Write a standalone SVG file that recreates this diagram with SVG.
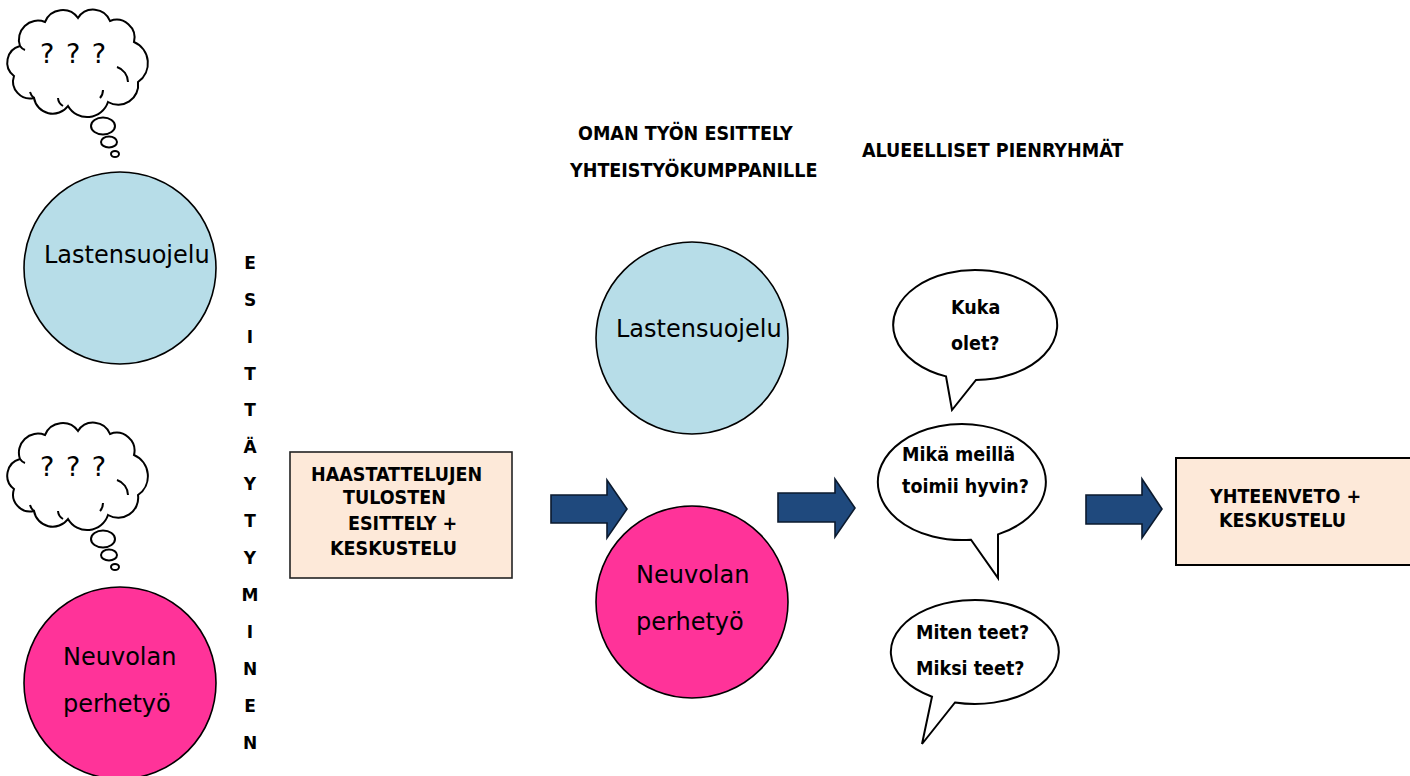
<svg xmlns="http://www.w3.org/2000/svg" xmlns:xlink="http://www.w3.org/1999/xlink" width="1410" height="776" viewBox="0 0 1410 776">
  <style>
    .bg { fill: #ffffff; }
    .circ { stroke: #000000; stroke-width: 1.6; }
    .blue { fill: #B7DDE8; }
    .pink { fill: #FF3399; }
    .reg { font-family: "DejaVu Sans", Verdana, sans-serif; font-size: 24px; fill: #000000; }
    .bold { font-family: "DejaVu Sans Condensed", "DejaVu Sans", sans-serif; font-stretch: condensed; font-weight: bold; font-size: 19.5px; fill: #000000; }
    .vert { font-family: "DejaVu Sans", sans-serif; font-weight: bold; font-size: 17px; fill: #000000; text-anchor: middle; }
    .q { font-family: "DejaVu Sans", Verdana, sans-serif; font-size: 27px; word-spacing: 3px; fill: #000000; }
    .box { fill: #FDE9D9; stroke: #222222; stroke-width: 1.6; }
    .arrow { fill: #1F497D; stroke: #0B1A2E; stroke-width: 1.6; stroke-linejoin: miter; }
    .bubble { fill: #ffffff; stroke: #000000; stroke-width: 2; stroke-linejoin: miter; }
    .cloud { fill: #ffffff; stroke: #000000; stroke-width: 2; }
    .curl { fill: none; stroke: #000000; stroke-width: 2; }
  </style>
  <defs>
    <!-- thought cloud with its trailing bubbles, drawn at the top-left origin -->
    <g id="thought">
      <path class="cloud" d="M14,76 A17,17 0 0 1 20,46 A19,19 0 0 1 45,22 A19,19 0 0 1 78,18 A18,18 0 0 1 110,21 A18,18 0 0 1 134,42 A23,23 0 0 1 138,82 A20,20 0 0 1 108,102 A22,22 0 0 1 68,106 A19,19 0 0 1 34,98 A17,17 0 0 1 14,76 Z"/>
      <path class="curl" d="M128,82 A16,16 0 0 0 117,67 M100,98 A12,12 0 0 0 103,90 M63,106 A10,10 0 0 1 58,98 M34,98 A12,12 0 0 1 30,92 M20,46 A10,10 0 0 0 25,50"/>
      <ellipse class="cloud" cx="103" cy="126" rx="12" ry="8.5"/>
      <ellipse class="cloud" cx="109" cy="142" rx="8" ry="5.5"/>
      <ellipse class="cloud" cx="115" cy="154" rx="4" ry="3"/>
    </g>
  </defs>

  <rect class="bg" x="0" y="0" width="1410" height="776"/>

  <!-- connectors: block arrows -->
  <g id="connectors">
    <polygon class="arrow" points="551,495 607,495 607,480 627,509 607,538 607,523 551,523"/>
    <polygon class="arrow" points="778,493 835,493 835,479 855,508 835,537 835,522 778,522"/>
    <polygon class="arrow" points="1086,495 1142,495 1142,479 1162,509 1142,538 1142,524 1086,524"/>
  </g>

  <!-- left column -->
  <g id="thought-top">
    <use xlink:href="#thought" href="#thought"/>
    <text class="q" x="40" y="63">? ? ?</text>
  </g>
  <g id="circle-ls-left">
    <circle class="circ blue" cx="120" cy="268" r="96"/>
    <text class="reg" x="44" y="263">Lastensuojelu</text>
  </g>
  <g id="thought-bottom">
    <use xlink:href="#thought" href="#thought" transform="translate(0,413)"/>
    <text class="q" x="40" y="476">? ? ?</text>
  </g>
  <g id="circle-np-left">
    <circle class="circ pink" cx="120" cy="683" r="96"/>
    <text class="reg" x="63" y="665">Neuvolan</text>
    <text class="reg" x="63" y="712">perhetyö</text>
  </g>

  <!-- vertical word -->
  <g id="esittaytyminen">
    <text class="vert" x="250" y="269">E</text>
    <text class="vert" x="250" y="306">S</text>
    <text class="vert" x="250" y="343">I</text>
    <text class="vert" x="250" y="380">T</text>
    <text class="vert" x="250" y="416">T</text>
    <text class="vert" x="250" y="453">Ä</text>
    <text class="vert" x="250" y="490">Y</text>
    <text class="vert" x="250" y="527">T</text>
    <text class="vert" x="250" y="564">Y</text>
    <text class="vert" x="250" y="601">M</text>
    <text class="vert" x="250" y="638">I</text>
    <text class="vert" x="250" y="675">N</text>
    <text class="vert" x="250" y="712">E</text>
    <text class="vert" x="250" y="749">N</text>
  </g>

  <g id="box-haastattelut">
    <rect class="box" x="290" y="452" width="222" height="126"/>
    <text class="bold" x="311" y="481">HAASTATTELUJEN</text>
    <text class="bold" x="343" y="504">TULOSTEN</text>
    <text class="bold" x="348" y="530">ESITTELY +</text>
    <text class="bold" x="330" y="555">KESKUSTELU</text>
  </g>

  <!-- headings -->
  <g id="heading-oma-tyo">
    <text class="bold" x="578" y="140">OMAN TYÖN ESITTELY</text>
    <text class="bold" x="570" y="177">YHTEISTYÖKUMPPANILLE</text>
  </g>
  <g id="heading-pienryhmat">
    <text class="bold" x="862" y="157">ALUEELLISET PIENRYHMÄT</text>
  </g>

  <!-- middle column -->
  <g id="circle-ls-mid">
    <circle class="circ blue" cx="692" cy="338" r="96"/>
    <text class="reg" x="616" y="337">Lastensuojelu</text>
  </g>
  <g id="circle-np-mid">
    <circle class="circ pink" cx="692" cy="602" r="96"/>
    <text class="reg" x="636" y="583">Neuvolan</text>
    <text class="reg" x="636" y="630">perhetyö</text>
  </g>

  <!-- speech bubbles -->
  <g id="bubble-kuka">
    <path class="bubble" d="M946,376.4 A82,55 0 1 1 976,380 L952,410 Z"/>
    <text class="bold" x="951" y="314">Kuka</text>
    <text class="bold" x="951" y="350">olet?</text>
  </g>
  <g id="bubble-mika">
    <path class="bubble" d="M971,539.7 A84,58 0 1 1 998,534.4 L998,578 Z"/>
    <text class="bold" x="902" y="461">Mikä meillä</text>
    <text class="bold" x="902" y="493">toimii hyvin?</text>
  </g>
  <g id="bubble-miten">
    <path class="bubble" d="M932,696.7 A84,52 0 1 1 955,702.5 L922,744 Z"/>
    <text class="bold" x="916" y="639">Miten teet?</text>
    <text class="bold" x="916" y="675">Miksi teet?</text>
  </g>

  <g id="box-yhteenveto">
    <rect class="box" x="1176" y="458" width="250" height="107" style="stroke:#000000; stroke-width:2"/>
    <text class="bold" x="1210" y="503">YHTEENVETO +</text>
    <text class="bold" x="1219" y="527">KESKUSTELU</text>
  </g>
</svg>
